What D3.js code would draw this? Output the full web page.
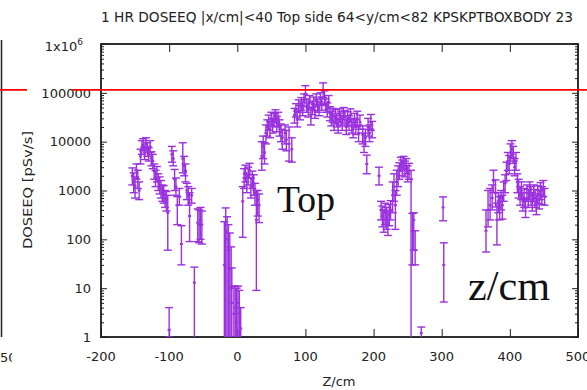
<!DOCTYPE html>
<html>
<head>
<meta charset="utf-8">
<script src="https://cdn.jsdelivr.net/npm/d3@7"></script>
<style>
  body { margin: 0; background: #fff; }
  svg { display: block; }
</style>
</head>
<body>
<svg id="chart" width="587" height="390"></svg>
<script>
// ---- data ----
const zPos = [
  -154, -152, -150, -148, -146, -144, -142, -140, -138, -136, -134, -132, -130, -128, -126, -124,
  -122, -120, -118, -116, -114, -112, -110, -108, -106, -104, -102, -100, -96, -94, -92, -90,
  -88, -85, -82, -80, -78, -76, -74, -72, -70, -67, -63, -58, -56, -54, -52,
  -19, -17, -15, -13, -11, -9, -8, -5, -3, -1, 1, 3, 5,
  8, 10, 12, 14, 16, 18, 20, 22, 24, 26, 28, 30, 32, 36, 38,
  40, 42, 44, 46, 48, 50, 52, 54, 56, 58, 60, 62, 64, 66, 70, 72, 76, 80,
  84, 86, 88, 90, 92, 94, 96, 98, 100, 102, 104, 106, 108, 110, 112, 114, 116, 118, 120,
  122, 124, 126, 128, 130, 132, 134, 136, 138, 140, 142,
  144, 146, 148, 150, 152, 154, 156, 158, 160, 162, 164, 166, 168, 170, 172, 174, 176, 178, 180,
  184, 186, 188, 190, 192, 194, 196, 198, 208,
  211, 213, 215, 217, 219, 221, 223, 225, 228, 230, 232, 234, 236,
  238, 240, 242, 244, 246, 248, 250, 252, 255, 257, 259, 261, 270, 302, 303,
  365, 368, 371, 374, 376, 379, 381, 383, 385, 387, 389, 391, 393, 395, 397, 399, 401, 403, 405,
  407, 409, 411, 413, 415, 417, 419, 421, 423, 425, 427, 429, 431, 433, 435, 437, 439, 441, 443,
  445, 447, 449, 451
];
const doseVal = [
  2000, 1500, 1200, 2600, 1800, 1000, 5000, 7500, 8500, 6000, 9000, 7000, 5500, 8000, 4500, 4000,
  2500, 1800, 2200, 1500, 1300, 1100, 900, 850, 700, 650, 350, 1.4, 5500, 4500, 1700, 1200,
  500, 750, 80, 4500, 3200, 2500, 1000, 800, 300, 800, 13, 220, 200, 250, 200,
  30, 150, 100, 60, 25, 10, 5, 3, 4, 2, 5, 3, 1.5,
  600, 1800, 2300, 1500, 2000, 2600, 1200, 1700, 1400, 900, 250, 650, 500, 5000, 8000,
  6000, 15000, 20000, 25000, 18000, 30000, 22000, 28000, 35000, 24000, 30000, 20000, 16000, 12000, 15000, 11000, 9000, 7000,
  35000, 45000, 30000, 55000, 40000, 60000, 48000, 70000, 95000, 55000, 45000, 65000, 35000, 50000, 60000, 42000, 70000, 55000, 48000,
  75000, 60000, 110000, 80000, 55000, 45000, 65000, 38000, 30000, 35000, 25000,
  32000, 28000, 22000, 35000, 30000, 25000, 38000, 32000, 20000, 30000, 25000, 35000, 22000, 18000, 28000, 20000, 30000, 15000, 25000,
  14000, 10000, 12000, 3500, 20000, 15000, 25000, 18000, 2000,
  400, 300, 250, 350, 280, 220, 320, 400, 800, 1200, 500, 1500, 2000,
  2500, 3500, 3000, 3800, 2800, 3200, 2200, 2500, 1700, 150, 250, 60, 1.2, 450, 30,
  150, 400, 500, 700, 1600, 900, 250, 600, 450, 700, 500, 1000, 1400, 2500, 4000, 3500, 6000, 7000, 5500,
  3000, 4000, 1500, 1100, 800, 1000, 600, 700, 450, 900, 700, 1000, 800, 600, 900, 700, 500, 850, 650,
  1000, 800, 1100, 750
];
const doseLow = [
  1300, 900, 700, 1700, 1100, 650, 3500, 5500, 6500, 4300, 7000, 5000, 4000, 6000, 3200, 2800,
  1700, 1200, 1500, 1000, 850, 700, 600, 550, 450, 380, 60, 1, 3800, 3200, 1000, 800,
  200, 500, 30, 2300, 2000, 1500, 650, 500, 90, 550, 0.8, 90, 85, 100, 80,
  0.5, 0.5, 0.5, 0.5, 0.5, 0.5, 0.5, 0.5, 0.5, 0.5, 0.5, 0.5, 0.5,
  110, 1100, 1500, 900, 1300, 1800, 700, 1100, 800, 500, 9, 300, 220, 2600, 4500,
  3500, 9000, 13000, 17000, 12000, 21000, 15000, 20000, 25000, 16000, 21000, 13000, 10000, 7000, 9000, 6500, 4000, 3800,
  24000, 32000, 20000, 40000, 28000, 44000, 34000, 52000, 72000, 40000, 32000, 48000, 22000, 36000, 44000, 30000, 52000, 40000, 34000,
  55000, 44000, 80000, 58000, 40000, 32000, 48000, 27000, 21000, 25000, 17000,
  23000, 20000, 15000, 25000, 21000, 17000, 28000, 23000, 14000, 21000, 17000, 25000, 15000, 12000, 20000, 14000, 21000, 10000, 18000,
  9000, 6000, 8000, 2200, 13000, 10000, 17000, 12000, 1300,
  250, 180, 140, 200, 160, 120, 190, 250, 350, 600, 160, 800, 1200,
  1700, 2500, 2000, 2700, 1900, 2200, 1500, 1700, 0.5, 30, 60, 30, 0.8, 240, 5.2,
  55, 180, 250, 400, 900, 460, 77, 350, 250, 400, 260, 600, 900, 1600, 2600, 2200, 4000, 4800, 3600,
  2000, 2600, 900, 700, 500, 650, 380, 450, 280, 600, 450, 650, 500, 380, 600, 450, 320, 550, 420,
  650, 520, 750, 500
];
const doseHigh = [
  2900, 2300, 1900, 3500, 2600, 1500, 7000, 10500, 11500, 8000, 12000, 9500, 7500, 10500, 6200, 5500,
  3500, 2600, 3100, 2200, 1900, 1600, 1300, 1250, 1000, 950, 800, 4, 8000, 6500, 2700, 1800,
  750, 1100, 190, 9500, 5000, 3500, 1400, 1200, 900, 1100, 27, 420, 400, 450, 380,
  230, 440, 290, 200, 135, 70, 26, 11, 11, 10, 11, 9, 4,
  1200, 2800, 3300, 2200, 3000, 3600, 1800, 2500, 2100, 1400, 1000, 1000, 850, 10000, 13000,
  9500, 22000, 28000, 35000, 26000, 40000, 30000, 38000, 45000, 33000, 40000, 28000, 23000, 18000, 22000, 17000, 20000, 12000,
  48000, 60000, 42000, 72000, 55000, 80000, 65000, 95000, 140000, 75000, 62000, 88000, 50000, 68000, 82000, 58000, 95000, 75000, 66000,
  100000, 82000, 160000, 110000, 75000, 62000, 88000, 52000, 42000, 48000, 34000,
  45000, 38000, 30000, 47000, 41000, 34000, 50000, 43000, 28000, 41000, 34000, 47000, 30000, 25000, 38000, 28000, 42000, 22000, 35000,
  21000, 15000, 18000, 5300, 30000, 22000, 36000, 26000, 3000,
  600, 480, 400, 550, 450, 380, 520, 620, 1500, 2200, 1000, 2600, 3200,
  3700, 4800, 4200, 5000, 4000, 4500, 3200, 3600, 2600, 340, 350, 150, 1.6, 740, 85,
  400, 1000, 1100, 1300, 2600, 1650, 550, 900, 750, 1000, 800, 1500, 2100, 3800, 6000, 5200, 9000, 10500, 8000,
  4500, 6000, 2200, 1700, 1200, 1500, 900, 1100, 700, 1300, 1050, 1500, 1200, 900, 1300, 1050, 800, 1250, 1000,
  1450, 1200, 1600, 1100
];
const limitValue = 115000;

const xTickValues = [-200, -100, 0, 100, 200, 300, 400, 500];
const yTickValues = [1, 10, 100, 1000, 10000, 100000, 1000000];
const yTickLabels = ['1', '10', '100', '1000', '10000', '100000', '1x10'];

const titleText = '1 HR  DOSEEQ |x/cm|<40 Top side  64<y/cm<82 KPSKPTBOXBODY 23';

// ---- layout ----
const PLOT = { left: 101, right: 578, top: 44, bottom: 337 };
const SANS = '"DejaVu Sans", sans-serif';
const SERIF = '"Liberation Serif", "DejaVu Serif", serif';
const PURPLE = '#9a30de';
const CAP = 4;

const svg = d3.select('#chart');

const x = d3.scaleLinear().domain([-200, 500]).range([PLOT.left, PLOT.right]);
const y = d3.scaleLog().domain([1, 1e6]).range([PLOT.bottom, PLOT.top]);

svg.append('defs').append('clipPath').attr('id', 'plot-clip')
  .append('rect')
  .attr('x', PLOT.left).attr('y', PLOT.top)
  .attr('width', PLOT.right - PLOT.left).attr('height', PLOT.bottom - PLOT.top);

// bits of the neighbouring chart at the left edge
svg.append('line')
  .attr('x1', 1.5).attr('x2', 1.5).attr('y1', 40).attr('y2', PLOT.bottom)
  .attr('stroke', '#222').attr('stroke-width', 1.5);
svg.append('defs').append('clipPath').attr('id', 'edge-clip')
  .append('rect').attr('x', 0).attr('y', 340).attr('width', 12).attr('height', 30);
svg.append('text')
  .attr('x', 0).attr('y', 362)
  .attr('clip-path', 'url(#edge-clip)')
  .attr('font-family', SANS).attr('font-size', 13).attr('fill', '#222')
  .text('500');
svg.append('line')
  .attr('x1', 0).attr('x2', 27).attr('y1', y(limitValue)).attr('y2', y(limitValue))
  .attr('stroke', '#ff0000').attr('stroke-width', 1.8);

// ---- axes / frame ----
const minorTicks = y.ticks().filter(d => !yTickValues.includes(d));

function styleAxis(g) {
  g.select('.domain').remove();
  g.selectAll('line').attr('stroke', '#222').attr('stroke-width', 1);
}

svg.append('g').attr('transform', `translate(${PLOT.left},0)`)
  .call(d3.axisLeft(y).tickValues(yTickValues).tickSize(-6).tickFormat(''))
  .call(styleAxis);
svg.append('g').attr('transform', `translate(${PLOT.left},0)`)
  .call(d3.axisLeft(y).tickValues(minorTicks).tickSize(-3).tickFormat(''))
  .call(styleAxis);
svg.append('g').attr('transform', `translate(${PLOT.right},0)`)
  .call(d3.axisRight(y).tickValues(yTickValues).tickSize(-6).tickFormat(''))
  .call(styleAxis);
svg.append('g').attr('transform', `translate(${PLOT.right},0)`)
  .call(d3.axisRight(y).tickValues(minorTicks).tickSize(-3).tickFormat(''))
  .call(styleAxis);
svg.append('g').attr('transform', `translate(0,${PLOT.bottom})`)
  .call(d3.axisBottom(x).tickValues(xTickValues).tickSize(-8).tickFormat(''))
  .call(styleAxis);
svg.append('g').attr('transform', `translate(0,${PLOT.top})`)
  .call(d3.axisTop(x).tickValues(xTickValues).tickSize(-8).tickFormat(''))
  .call(styleAxis);

svg.append('rect')
  .attr('x', PLOT.left).attr('y', PLOT.top)
  .attr('width', PLOT.right - PLOT.left).attr('height', PLOT.bottom - PLOT.top)
  .attr('fill', 'none').attr('stroke', '#1a1a1a').attr('stroke-width', 1.8);

// tick labels
const yLab = svg.append('g')
  .attr('font-family', SANS).attr('font-size', 13).attr('fill', '#222')
  .attr('text-anchor', 'end');
yTickValues.forEach((v, i) => {
  const t = yLab.append('text')
    .attr('x', i === yTickValues.length - 1 ? 83 : 91)
    .attr('y', y(v)).attr('dy', '0.36em')
    .text(yTickLabels[i]);
  if (i === yTickValues.length - 1) {
    t.attr('dy', '0.5em');
    t.append('tspan').attr('dy', -6).attr('font-size', 9).text('6');
  }
});

svg.append('g')
  .attr('font-family', SANS).attr('font-size', 13).attr('fill', '#222')
  .attr('text-anchor', 'middle')
  .selectAll('text').data(xTickValues).join('text')
  .attr('x', d => x(d)).attr('y', 361)
  .text(d => d);

// titles
svg.append('text')
  .attr('x', 337).attr('y', 22).attr('text-anchor', 'middle')
  .attr('font-family', SANS).attr('font-size', 13.5).attr('fill', '#222')
  .attr('textLength', 472).attr('lengthAdjust', 'spacingAndGlyphs')
  .text(titleText);
svg.append('text')
  .attr('x', 339).attr('y', 386).attr('text-anchor', 'middle')
  .attr('font-family', SANS).attr('font-size', 13).attr('fill', '#222')
  .text('Z/cm');
svg.append('text')
  .attr('transform', 'translate(32,190) rotate(-90)')
  .attr('text-anchor', 'middle')
  .attr('font-family', SANS).attr('font-size', 13).attr('fill', '#222')
  .attr('textLength', 118).attr('lengthAdjust', 'spacingAndGlyphs')
  .text('DOSEEQ [pSv/s]');

// ---- error bars ----
const bars = svg.append('g').attr('clip-path', 'url(#plot-clip)')
  .attr('stroke', PURPLE).attr('stroke-width', 1.4).attr('fill', 'none');

const idx = d3.range(zPos.length);
bars.selectAll('line.stem').data(idx).join('line')
  .attr('class', 'stem')
  .attr('x1', i => x(zPos[i])).attr('x2', i => x(zPos[i]))
  .attr('y1', i => y(doseHigh[i])).attr('y2', i => y(doseLow[i]));
bars.selectAll('line.cap-hi').data(idx).join('line')
  .attr('class', 'cap-hi')
  .attr('x1', i => x(zPos[i]) - CAP).attr('x2', i => x(zPos[i]) + CAP)
  .attr('y1', i => y(doseHigh[i])).attr('y2', i => y(doseHigh[i]));
bars.selectAll('line.cap-lo').data(idx).join('line')
  .attr('class', 'cap-lo')
  .attr('x1', i => x(zPos[i]) - CAP).attr('x2', i => x(zPos[i]) + CAP)
  .attr('y1', i => y(doseLow[i])).attr('y2', i => y(doseLow[i]));
bars.selectAll('rect.pt').data(idx).join('rect')
  .attr('class', 'pt')
  .attr('x', i => x(zPos[i]) - 1.5).attr('y', i => y(doseVal[i]) - 1)
  .attr('width', 3).attr('height', 2)
  .attr('fill', PURPLE).attr('stroke', 'none');

// limit line
svg.append('line')
  .attr('x1', 72).attr('x2', 587)
  .attr('y1', y(limitValue)).attr('y2', y(limitValue))
  .attr('stroke', '#ff0000').attr('stroke-width', 1.8);

// overlaid annotations
svg.append('text')
  .attr('x', 277).attr('y', 212)
  .attr('font-family', SERIF).attr('font-size', 38).attr('fill', '#111')
  .attr('textLength', 58).attr('lengthAdjust', 'spacingAndGlyphs')
  .text('Top');
svg.append('text')
  .attr('x', 468).attr('y', 300)
  .attr('font-family', SERIF).attr('font-size', 42).attr('fill', '#111')
  .attr('textLength', 82).attr('lengthAdjust', 'spacingAndGlyphs')
  .text('z/cm');
</script>
</body>
</html>
